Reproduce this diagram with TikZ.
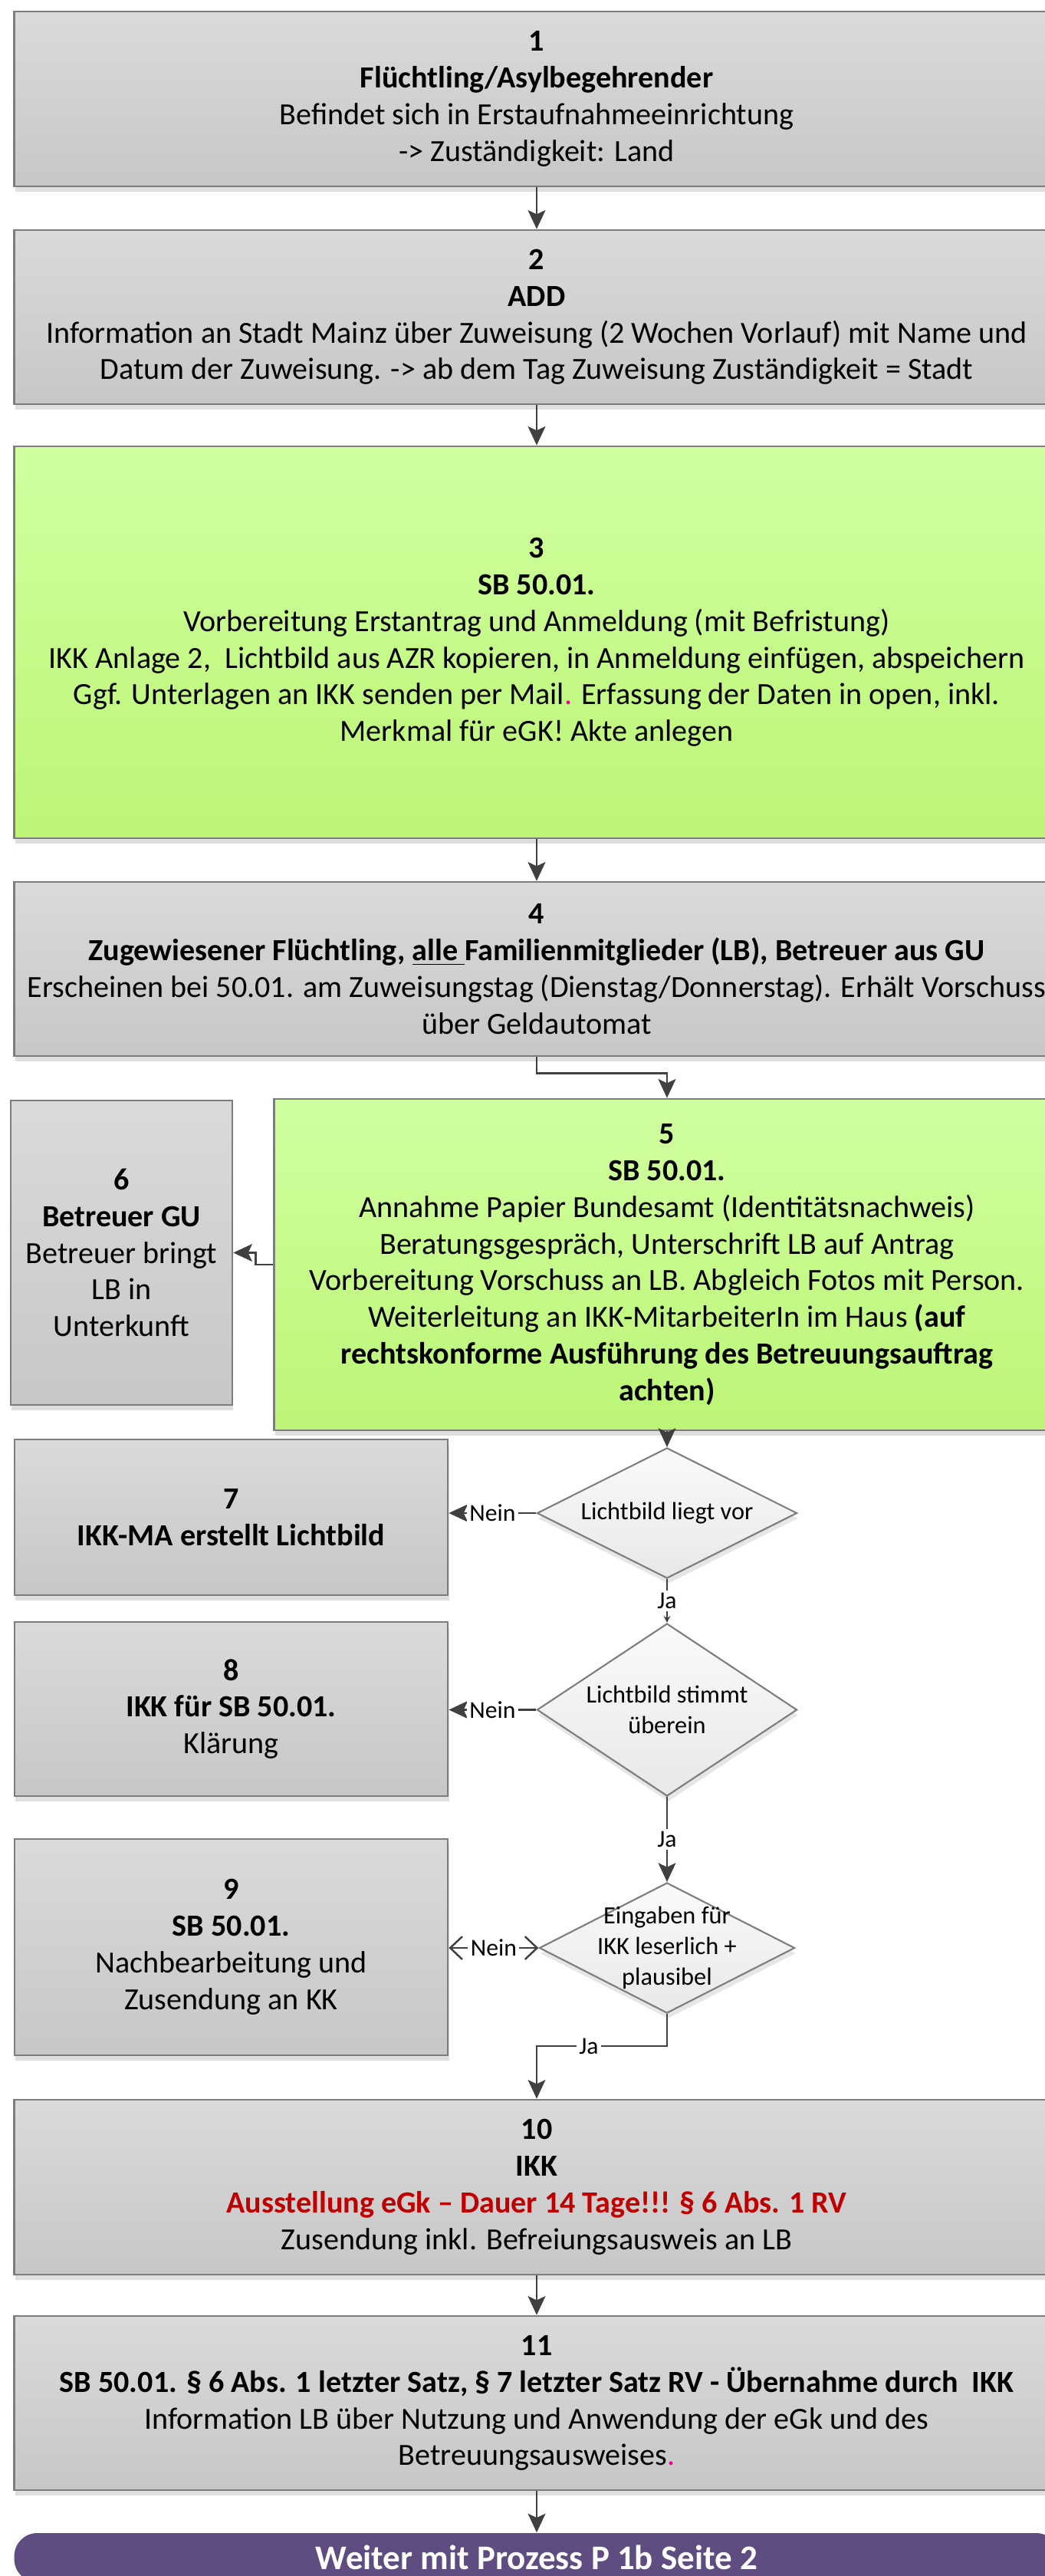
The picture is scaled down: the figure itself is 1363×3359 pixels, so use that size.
\documentclass[tikz,border=0pt]{standalone}
\usepackage{fontspec}
\setmainfont{Carlito}
\usepackage{xcolor}
\usetikzlibrary{arrows.meta}
\usetikzlibrary{shapes.geometric}
\usetikzlibrary{shadows}
\definecolor{boxgrayA}{RGB}{218,218,218}
\definecolor{boxgrayB}{RGB}{199,199,199}
\definecolor{boxgreenA}{RGB}{208,255,160}
\definecolor{boxgreenB}{RGB}{188,245,118}
\definecolor{decA}{RGB}{250,250,250}
\definecolor{decB}{RGB}{232,232,232}
\definecolor{lineg}{RGB}{125,125,125}
\definecolor{conn}{RGB}{64,64,64}
\definecolor{redtxt}{RGB}{192,0,0}
\definecolor{endpurple}{RGB}{95,76,128}
\tikzset{
 graybox/.style={rectangle, draw=lineg, line width=.7pt, top color=boxgrayA, bottom color=boxgrayB,
  drop shadow={shadow xshift=.4pt, shadow yshift=-2pt, opacity=.25}, align=center,
  font=\fontsize{11.4}{13.6}\selectfont, inner sep=2pt},
 greenbox/.style={graybox, top color=boxgreenA, bottom color=boxgreenB},
 decision/.style={diamond, draw=lineg, line width=.6pt, top color=decA, bottom color=decB,
  drop shadow={shadow xshift=.4pt, shadow yshift=-2pt, opacity=.2}, inner sep=0pt},
 dtext/.style={align=center, font=\fontsize{9.2}{11.3}\selectfont},
 arr/.style={draw=conn, line width=.7pt, -{Stealth[length=7pt,width=6.5pt,inset=1.5pt]}},
 yesno/.style={fill=white, inner sep=1pt, font=\fontsize{9}{11}\selectfont},
}

\begin{document}
\begin{tikzpicture}[x=0.01cm, y=-0.01cm]
\useasboundingbox (0,0) rectangle (1363,3359);

% main column
\node[graybox, minimum width=13.62cm, minimum height=2.28cm] (b1) at (700,129)
 {\textbf{1}\\\textbf{Flüchtling/Asylbegehrender}\\Befindet sich in Erstaufnahmeeinrichtung\\-> Zuständigkeit: Land};
\node[graybox, minimum width=13.62cm, minimum height=2.27cm] (b2) at (700,413.5)
 {\textbf{2}\\\textbf{ADD}\\Information an Stadt Mainz über Zuweisung (2 Wochen Vorlauf) mit Name und\\Datum der Zuweisung. -> ab dem Tag Zuweisung Zuständigkeit = Stadt};
\node[greenbox, minimum width=13.62cm, minimum height=5.11cm] (b3) at (700,837.5)
 {\textbf{3}\\\textbf{SB 50.01.}\\Vorbereitung Erstantrag und Anmeldung (mit Befristung)\\IKK Anlage 2, \ Lichtbild aus AZR kopieren, in Anmeldung einfügen, abspeichern\\Ggf. Unterlagen an IKK senden per Mail\textcolor{magenta}{.} Erfassung der Daten in open, inkl.\\Merkmal für eGK! Akte anlegen};
\node[graybox, minimum width=13.62cm, minimum height=2.27cm] (b4) at (700,1263.5)
 {\textbf{4}\\\textbf{Zugewiesener Flüchtling, \underline{alle\ }Familienmitglieder (LB), Betreuer aus GU}\\Erscheinen bei 50.01. am Zuweisungstag (Dienstag/Donnerstag). Erhält Vorschuss\\über Geldautomat};
\node[greenbox, minimum width=10.24cm, minimum height=4.32cm] (b5) at (870,1649)
 {\textbf{5}\\\textbf{SB 50.01.}\\Annahme Papier Bundesamt (Identitätsnachweis)\\Beratungsgespräch, Unterschrift LB auf Antrag\\Vorbereitung Vorschuss an LB. Abgleich Fotos mit Person.\\Weiterleitung an IKK-MitarbeiterIn im Haus \textbf{(auf}\\\textbf{rechtskonforme Ausführung des Betreuungsauftrag}\\\textbf{achten)}};
\node[graybox, minimum width=2.89cm, minimum height=3.97cm] (b6) at (158.5,1633.5)
 {\textbf{6}\\\textbf{Betreuer GU}\\Betreuer bringt\\LB in\\Unterkunft};

% decisions and side boxes
\node[decision, minimum width=3.39cm, minimum height=1.70cm, label={[dtext]center:{Lichtbild liegt vor}}] (d1) at (870,1973) {};
\node[decision, minimum width=3.39cm, minimum height=2.25cm, label={[dtext]center:{Lichtbild stimmt\\überein}}] (d2) at (870,2229.5) {};
\node[decision, minimum width=3.33cm, minimum height=1.70cm, label={[dtext]center:{Eingaben für\\IKK leserlich +\\plausibel}}] (d3) at (870,2540) {};
\node[graybox, minimum width=5.65cm, minimum height=2.03cm] (b7) at (301.5,1978.5)
 {\textbf{7}\\\textbf{IKK-MA erstellt Lichtbild}};
\node[graybox, minimum width=5.65cm, minimum height=2.27cm] (b8) at (301.5,2228.5)
 {\textbf{8}\\\textbf{IKK für SB 50.01.}\\Klärung};
\node[graybox, minimum width=5.65cm, minimum height=2.82cm] (b9) at (301.5,2539)
 {\textbf{9}\\\textbf{SB 50.01.}\\Nachbearbeitung und\\Zusendung an KK};

\node[graybox, minimum width=13.62cm, minimum height=2.28cm] (b10) at (700,2852)
 {\textbf{10}\\\textbf{IKK}\\\textcolor{redtxt}{\textbf{Ausstellung eGk – Dauer 14 Tage!!! § 6 Abs. 1 RV}}\\Zusendung inkl. Befreiungsausweis an LB};
\node[graybox, minimum width=13.62cm, minimum height=2.27cm] (b11) at (700,3133.5)
 {\textbf{11}\\\textbf{SB 50.01. § 6 Abs. 1 letzter Satz, § 7 letzter Satz RV - Übernahme durch \ IKK}\\Information LB über Nutzung und Anwendung der eGk und des\\Betreuungsausweises\textcolor{magenta}{.}};
\node[rectangle, rounded corners=0.3cm, fill=endpurple, minimum width=13.62cm, minimum height=0.64cm,
 text=white, font=\fontsize{12.8}{14}\selectfont\bfseries] (b12) at (700,3335) {Weiter mit Prozess P 1b Seite 2};

% connectors
\draw[arr] (b1.south) -- (b2.north);
\draw[arr] (b2.south) -- (b3.north);
\draw[arr] (b3.south) -- (b4.north);
\draw[arr] (b4.south) -- ++(0,21) -| (b5.north);
\draw[arr] (b5.west) -- ++(-23,0) |- (b6.east);
\draw[arr] (b5.south) -- (d1.north);
\draw[arr] (d1.west) -- (d1.west -| b7.east) node[yesno, midway] {Nein};
\draw[arr, -{Stealth[length=2.5pt,width=2.5pt]}] (d1.south) -- (d2.north) node[yesno, midway] {Ja};
\draw[arr] (d2.west) -- (d2.west -| b8.east) node[yesno, midway] {Nein};
\draw[arr] (d2.south) -- (d3.north) node[yesno, midway] {Ja};
\draw[arr, {Straight Barb[length=4.5pt,width=8.5pt]}-{Straight Barb[length=4.5pt,width=8.5pt]}] (d3.west) -- (d3.west -| b9.east) node[yesno, midway] {Nein};
\draw[arr] (d3.south) -- ++(0,42) -| node[yesno, pos=.3] {Ja} (b10.north);
\draw[arr] (b10.south) -- (b11.north);
\draw[arr] (b11.south) -- (b12.north);
\end{tikzpicture}
\end{document}
